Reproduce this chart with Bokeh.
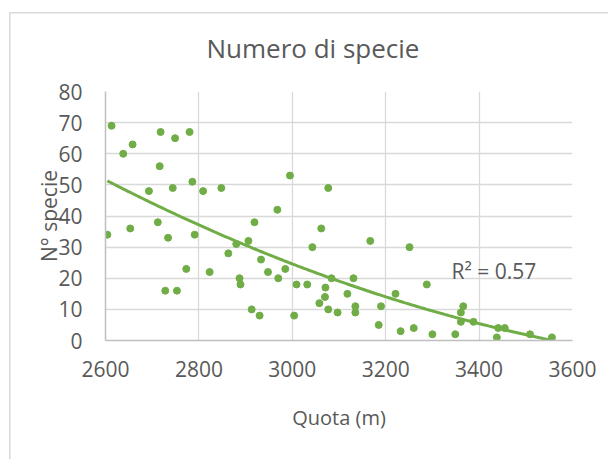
import numpy as np
from bokeh.plotting import figure
from bokeh.models import Range1d, Label, FixedTicker
from bokeh.embed import file_html
from bokeh.resources import INLINE

quota = [2613, 2638, 2658, 2718, 2749, 2780, 2716, 2693, 2744, 2786,
         2809, 2848, 2995, 3077, 2968, 2919, 2604, 2653, 2712, 2734,
         2791, 2880, 2906, 2863, 2933, 2948, 2773, 2823, 2887, 2889,
         2728, 2753, 2913, 2930, 3062, 3167, 3043, 3251, 2985, 2970,
         3009, 3032, 3084, 3131, 3071, 3070, 3058, 3118, 3077, 3097,
         3135, 3135, 3004, 3190, 3185, 3221, 3288, 3232, 3260, 3300,
         3349, 3366, 3361, 3361, 3388, 3441, 3455, 3438, 3509, 3556]
specie = [69, 60, 63, 67, 65, 67, 56, 48, 49, 51,
          48, 49, 53, 49, 42, 38, 34, 36, 38, 33,
          34, 31, 32, 28, 26, 22, 23, 22, 20, 18,
          16, 16, 10, 8, 36, 32, 30, 30, 23, 20,
          18, 18, 20, 20, 17, 14, 12, 15, 10, 9,
          11, 9, 8, 11, 5, 15, 18, 3, 4, 2,
          2, 11, 9, 6, 6, 4, 4, 1, 2, 1]
# polynomial trendline (order 2) as shown on the chart, in t = (quota-2600)/100
trend_coef = [0.2443, -7.725, 51.6]
x_ticks = [2600, 2800, 3000, 3200, 3400, 3600]
y_ticks = [0, 10, 20, 30, 40, 50, 60, 70, 80]
title_text = "Numero di specie"
x_title = "Quota (m)"
y_title = "N° specie"
r2_text = "R² = 0.57"

GREEN = "#70ad47"
TXT = "#595959"
FONT = "Open Sans"

W, H = 608, 459
p = figure(width=W, height=H, output_backend="svg", toolbar_location=None,
           x_range=Range1d(2600, 3600), y_range=Range1d(0, 80),
           min_border_left=105, min_border_right=W - 572,
           min_border_top=91, min_border_bottom=H - 340,
           title=title_text)
# light chart-area border (top and left edges visible in the window)
p.styles = {
    "background": ("linear-gradient(#d9d9d9, #d9d9d9) 9px 11.5px / 100% 1.5px no-repeat, "
                   "linear-gradient(#d9d9d9, #d9d9d9) 8.5px 12px / 1.5px 100% no-repeat, white"),
}
p.outline_line_color = None
p.background_fill_color = "white"
p.border_fill_color = None

p.title.align = "left"
p.title.offset = 101
p.title.text_font = FONT
p.title.text_font_size = "26px"
p.title.text_font_style = "normal"
p.title.text_color = TXT
p.title.standoff = 52

# grid
p.xgrid.ticker = FixedTicker(ticks=x_ticks)
p.ygrid.ticker = FixedTicker(ticks=y_ticks)
for g in (p.xgrid, p.ygrid):
    g.grid_line_color = "#d9d9d9"
    g.grid_line_width = 1.3

# axes
p.xaxis.ticker = FixedTicker(ticks=x_ticks)
p.yaxis.ticker = FixedTicker(ticks=y_ticks)
for ax in (p.xaxis, p.yaxis):
    ax.major_tick_line_color = None
    ax.minor_tick_line_color = None
    ax.major_tick_out = 0
    ax.major_tick_in = 0
    ax.axis_line_color = "#bfbfbf"
    ax.axis_line_width = 1.5
    ax.major_label_text_font = FONT
    ax.major_label_text_font_size = "21px"
    ax.major_label_text_color = TXT
    ax.axis_label_text_font = FONT
    ax.axis_label_text_font_style = "normal"
    ax.axis_label_text_color = TXT
p.xaxis.axis_label_text_font_size = "20px"
p.yaxis.axis_label_text_font_size = "21px"
p.yaxis.major_label_standoff = 23
p.xaxis.major_label_standoff = 20
p.xaxis.axis_label = x_title
p.yaxis.axis_label = y_title
p.xaxis.axis_label_standoff = 24
p.yaxis.axis_label_standoff = -8

# trend line
xs = np.linspace(min(quota), max(quota), 200)
p.line(xs, np.polyval(trend_coef, (xs - 2600) / 100), line_color=GREEN, line_width=3)

p.scatter(quota, specie, size=7, fill_color=GREEN, line_color=GREEN)

p.add_layout(Label(x=3341, y=22.2, text=r2_text, text_font=FONT,
                   text_font_size="21px", text_color=TXT,
                   text_baseline="alphabetic"))

open("out.html", "w").write(file_html(p, INLINE))
